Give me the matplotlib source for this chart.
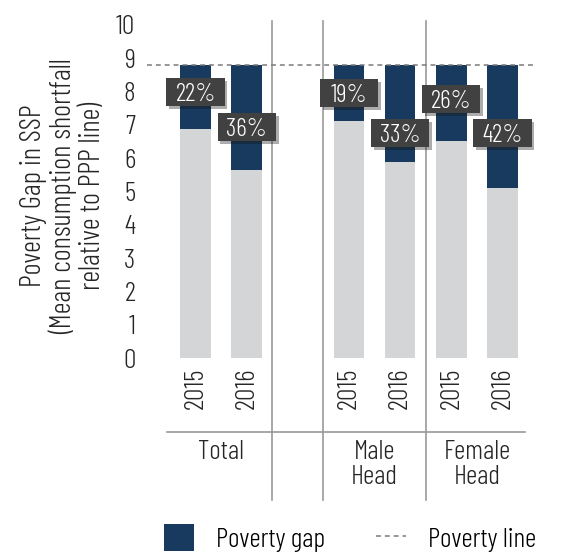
import matplotlib
matplotlib.use("Agg")
import matplotlib.pyplot as plt
import matplotlib.patheffects as pe
from matplotlib import font_manager as fm
from matplotlib.patches import Patch, Rectangle
from matplotlib.lines import Line2D
import matplotlib.transforms as mtransforms

# Data
years = ["2015", "2016", "", "2015", "2016", "2015", "2016"]
groups = ["Total", "Male\nHead", "Female\nHead"]
gap_pct = [22, 36, 19, 33, 26, 42]          # poverty gap, % of the line
poverty_line = 8.8                           # PPP line in SSP

# layout: bar slots (slot 2 stays empty), label heights, group centres
bar_pos = [0, 1, 3, 4, 5, 6]
label_y = [7.99, 6.94, 7.96, 6.76, 7.78, 6.76]
group_x = [0.5, 3.5, 5.5]
separators = [1.5, 2.5, 4.5]

GRAY = "#d4d5d7"
NAVY = "#173a5e"
BOX = "#414141"
LINE = "#999999"
INK = "#262626"

# pick a narrow light face if one is installed
names = {f.name for f in fm.fontManager.ttflist}
for fam in ["Barlow Condensed", "Roboto Condensed", "Open Sans Condensed",
            "PT Sans Narrow", "Liberation Sans Narrow", "DejaVu Sans"]:
    if fam in names:
        break
plt.rcParams["font.family"] = [fam, "DejaVu Sans"]
plt.rcParams["font.weight"] = 300
FS = 20

mean_cons = [poverty_line * (1 - p / 100) for p in gap_pct]
gap = [poverty_line - c for c in mean_cons]

fig = plt.figure(figsize=(5.72, 5.54), dpi=100)
ax = fig.add_axes([170 / 572, 1 - 358 / 554, 358 / 572, 333 / 554])

ax.bar(bar_pos, mean_cons, width=0.6, color=GRAY, zorder=2)
ax.bar(bar_pos, gap, width=0.6, bottom=mean_cons, color=NAVY, zorder=2)

ax.plot([-0.94, 6.66], [poverty_line, poverty_line], color="#7a7a7a",
        lw=1.1, ls=(0, (3.2, 2.6)), clip_on=False, zorder=3)

# percentage boxes
bw, bh = 58 / 50.93, 28 / 33.3
for x, y, p in zip(bar_pos, label_y, gap_pct):
    r = Rectangle((x - bw / 2, y - bh / 2), bw, bh, facecolor=BOX,
                  edgecolor="none", clip_on=False, zorder=5)
    r.set_path_effects([pe.SimplePatchShadow(offset=(2, -2), alpha=0.35),
                        pe.Normal()])
    ax.add_patch(r)
    ax.text(x, y, f"{p}%", color="white", fontsize=18.5, ha="center",
            va="center_baseline", zorder=6)

ax.set_xlim(-0.5, 6.5)
ax.set_ylim(0, 10)
ax.set_yticks(range(0, 11))
ax.tick_params(axis="y", length=0, pad=25, labelsize=FS, colors=INK)
ax.set_xticks(range(7))
ax.set_xticklabels(years, rotation=90, fontsize=FS, color=INK)
ax.tick_params(axis="x", length=0, pad=7)
for s in ax.spines.values():
    s.set_visible(False)

# category frame below the bars
trans = mtransforms.blended_transform_factory(ax.transData, ax.transAxes)
ax.plot([-0.56, 6.44], [-0.222, -0.222], color=LINE, lw=1.2,
        transform=trans, clip_on=False)
for sx in separators:
    ax.plot([sx, sx], [1.012, -0.426], color=LINE, lw=1.2,
            transform=trans, clip_on=False)
for gx, g in zip(group_x, groups):
    ax.text(gx, -0.245, g, transform=trans, ha="center", va="top",
            fontsize=FS, color=INK, linespacing=1.05)

fig.text(63 / 572, 1 - 196 / 554,
         "Poverty Gap in SSP\n(Mean consumption shortfall\nrelative to PPP line)",
         rotation=90, ha="center", va="center", fontsize=21,
         multialignment="center", color=INK, linespacing=1.1)

handles = [Patch(facecolor=NAVY, edgecolor="none"),
           Line2D([0], [0], color="#7a7a7a", lw=1.1, ls=(0, (3.2, 2.6)))]
fig.legend(handles, ["Poverty gap", "Poverty line"], ncol=2, loc="center",
           bbox_to_anchor=(350 / 572, 1 - 538 / 554), frameon=False,
           fontsize=FS, handlelength=1.1, handleheight=1.1,
           handletextpad=0.8, columnspacing=1.8)

fig.savefig("out.png", dpi=100)
